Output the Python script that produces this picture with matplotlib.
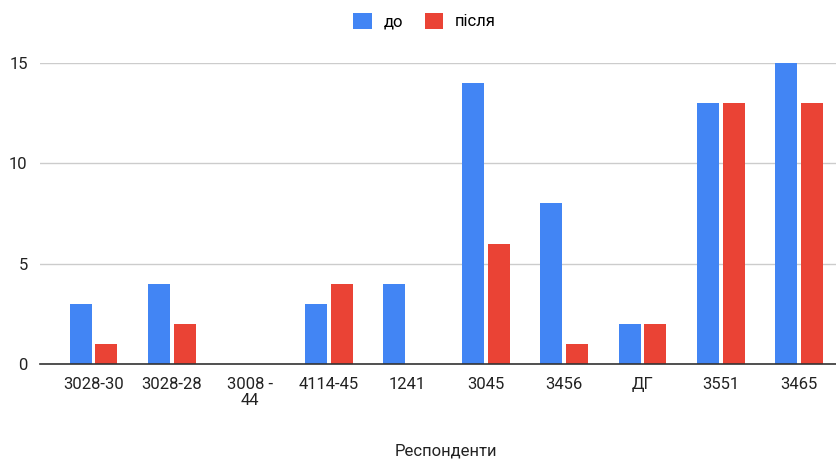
import numpy as np
import matplotlib.pyplot as plt
from matplotlib.patches import Patch

# Дані: кількість відповідей до та після
respondenty = ['3028-30', '3028-28', '3008 -\n44', '4114-45', '1241',
               '3045', '3456', 'ДГ', '3551', '3465']
do = [3, 4, 0, 3, 4, 14, 8, 2, 13, 15]
pislia = [1, 2, 0, 4, 0, 6, 1, 2, 13, 13]

kolir_do = '#4285F4'
kolir_pislia = '#EA4335'

plt.rcParams['font.family'] = ['Roboto', 'DejaVu Sans']

fig = plt.figure(figsize=(8.37, 4.61), dpi=100)
ax = fig.add_axes([0.048, 0.2104, 0.952, 0.6529])

x = np.arange(len(respondenty))
shyryna = 0.28
ax.bar(x - 0.165, do, width=shyryna, color=kolir_do, zorder=3, clip_on=False)
ax.bar(x + 0.165, pislia, width=shyryna, color=kolir_pislia, zorder=3, clip_on=False)

ax.set_xlim(-0.68, 9.48)
ax.set_ylim(0, 15)
ax.set_yticks([0, 5, 10, 15])
ax.set_xticks(x)
ax.set_xticklabels(respondenty, fontsize=12, color='#222222', linespacing=1.15)
ax.tick_params(axis='y', labelsize=12, colors='#222222', length=0, pad=9)
ax.tick_params(axis='x', length=0, pad=9)

ax.grid(axis='y', color='#cccccc', linewidth=1, zorder=0)
for s in ['top', 'right', 'left']:
    ax.spines[s].set_visible(False)
ax.spines['bottom'].set_color('#333333')
ax.spines['bottom'].set_linewidth(1.2)
ax.spines['bottom'].set_zorder(4)

ax.set_xlabel('Респонденти', fontsize=12, color='#222222')
ax.xaxis.set_label_coords(0.509, -0.265)

legenda = [Patch(facecolor=kolir_do, label='до'),
           Patch(facecolor=kolir_pislia, label='після')]
fig.legend(handles=legenda, loc='upper center', bbox_to_anchor=(0.507, 1.005),
           ncol=2, frameon=False, fontsize=12, handlelength=1.1,
           handleheight=1.1, columnspacing=1.3, handletextpad=0.7)

plt.savefig('out.png', dpi=100)
